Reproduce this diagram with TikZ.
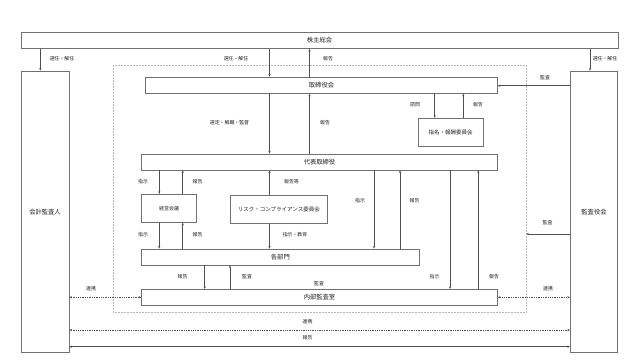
\documentclass[tikz,border=0pt]{standalone}
\usepackage{fontspec}
\setmainfont{Noto Sans CJK JP}
\usetikzlibrary{arrows.meta}
\definecolor{boxc}{HTML}{707070}
\definecolor{linec}{HTML}{505050}
\definecolor{txtc}{HTML}{222222}
\begin{document}
\begin{tikzpicture}[x=1pt,y=-1pt,
  bx/.style={draw=boxc,line width=0.8pt,inner sep=0pt,text=txtc,fill=white},
  bigt/.style={font=\fontsize{6.3}{7}\selectfont},
  smt/.style={font=\fontsize{5.5}{6.5}\selectfont},
  lab/.style={inner sep=0pt,text=txtc,font=\fontsize{4.9}{6}\selectfont},
  arr/.style={draw=linec,line width=0.6pt,-{Stealth[length=2.6pt,width=2.2pt]}},
  darr/.style={draw=linec,line width=0.55pt,dash pattern=on 1.3pt off 1pt,{Stealth[length=2.6pt,width=2.2pt]}-{Stealth[length=2.6pt,width=2.2pt]}},
  barr/.style={draw=linec,line width=0.6pt,{Stealth[length=2.6pt,width=2.2pt]}-{Stealth[length=2.6pt,width=2.2pt]}},
  grpst/.style={draw=black!28,line width=0.45pt,dash pattern=on 0.6pt off 0.9pt,inner sep=0pt}
]
\useasboundingbox[fill=white] (0,0) rectangle (640,360);

% group (dotted)
\node[grpst,minimum width=412.7pt,minimum height=247.4pt] (grp) at (319.65,189) {};

% boxes
\node[bx,bigt,minimum width=597pt,minimum height=15.8pt] (sh) at (319.5,40.4) {株主総会};
\node[bx,bigt,minimum width=48pt,minimum height=281.5pt] (ka) at (45,211.75) {会計監査人};
\node[bx,bigt,minimum width=47.4pt,minimum height=281.5pt] (ks) at (594,211.75) {監査役会};
\node[bx,bigt,minimum width=351.6pt,minimum height=16.3pt] (tr) at (321.5,85.15) {取締役会};
\node[bx,smt,minimum width=64.7pt,minimum height=27.7pt] (sm) at (450.65,132.15) {指名・報酬委員会};
\node[bx,bigt,minimum width=355.6pt,minimum height=16pt] (dr) at (319.5,162) {代表取締役};
\node[bx,font=\fontsize{5}{6}\selectfont,minimum width=55pt,minimum height=28pt] (kk) at (169.2,208.3) {経営会議};
\node[bx,smt,minimum width=96.3pt,minimum height=27.6pt] (rc) at (278.85,209.5) {リスク・コンプライアンス委員会};
\node[bx,bigt,minimum width=277.3pt,minimum height=16pt] (bm) at (280.35,257) {各部門};
\node[bx,bigt,minimum width=355.6pt,minimum height=16.4pt] (na) at (319.5,297.5) {内部監査室};

% guide coordinates
\coordinate (c40) at (40.3,0);
\coordinate (c590) at (590,0);
\coordinate (c269) at (269.5,0);
\coordinate (c310) at (309.5,0);
\coordinate (c435) at (434.7,0);
\coordinate (c463) at (463.3,0);
\coordinate (c159) at (159.3,0);
\coordinate (c183) at (182.7,0);
\coordinate (c374) at (374,0);
\coordinate (c400) at (400,0);
\coordinate (c450) at (450,0);
\coordinate (c478) at (478.3,0);
\coordinate (c205) at (204.7,0);
\coordinate (c230) at (230,0);
\coordinate (y85) at (0,85.7);
\coordinate (y234) at (0,234);
\coordinate (y297) at (0,297.3);
\coordinate (y330) at (0,330);
\coordinate (y347) at (0,346.7);

% connectors
\draw[arr] (sh.south -| c40) -- (ka.north -| c40);
\draw[arr] (sh.south -| c590) -- (ks.north -| c590);
\draw[arr] (sh.south -| c269) -- (tr.north -| c269);
\draw[arr] (tr.north -| c310) -- (sh.south -| c310);
\draw[arr] (ks.west |- y85) -- (tr.east |- y85);
\draw[arr] (tr.south -| c435) -- (sm.north -| c435);
\draw[arr] (sm.north -| c463) -- (tr.south -| c463);
\draw[arr] (tr.south -| c269) -- (dr.north -| c269);
\draw[arr] (dr.north -| c310) -- (tr.south -| c310);
\draw[arr] (dr.south -| c159) -- (kk.north -| c159);
\draw[arr] (kk.north -| c183) -- (dr.south -| c183);
\draw[arr] (kk.south -| c159) -- (bm.north -| c159);
\draw[arr] (bm.north -| c183) -- (kk.south -| c183);
\draw[arr] (rc.north -| c269) -- (dr.south -| c269);
\draw[arr] (rc.south -| c269) -- (bm.north -| c269);
\draw[arr] (dr.south -| c374) -- (bm.north -| c374);
\draw[arr] (bm.north -| c400) -- (dr.south -| c400);
\draw[arr] (dr.south -| c450) -- (na.north -| c450);
\draw[arr] (na.north -| c478) -- (dr.south -| c478);
\draw[arr] (bm.south -| c205) -- (na.north -| c205);
\draw[arr] (na.north -| c230) -- (bm.south -| c230);
\draw[arr] (ks.west |- y234) -- (grp.east |- y234);
\draw[darr] (ka.east |- y297) -- (na.west |- y297);
\draw[darr] (na.east |- y297) -- (ks.west |- y297);
\draw[darr] (ka.east |- y330) -- (ks.west |- y330);
\draw[barr] (ka.east |- y347) -- (ks.west |- y347);

% labels
\node[lab] (l1) at (62,59) {選任・解任};
\node[lab] (l2) at (605,59) {選任・解任};
\node[lab] (l3) at (236,59) {選任・解任};
\node[lab] (l4) at (328,59) {報告};
\node[lab] (l5) at (545,78) {監査};
\node[lab] (l6) at (415,105) {諮問};
\node[lab] (l7) at (478,105) {報告};
\node[lab] (l8) at (229.5,123) {選定・解職・監督};
\node[lab] (l9) at (325,123) {報告};
\node[lab] (l10) at (143,182) {指示};
\node[lab] (l11) at (197.5,182) {報告};
\node[lab] (l12) at (291.5,182) {報告等};
\node[lab] (l13) at (143,235) {指示};
\node[lab] (l14) at (197.5,235) {報告};
\node[lab] (l15) at (295,235) {指示・教育};
\node[lab] (l16) at (360,201) {指示};
\node[lab] (l17) at (414.5,201) {報告};
\node[lab] (l18) at (547.5,223) {監査};
\node[lab] (l19) at (182.5,277) {報告};
\node[lab] (l20) at (247,277) {監査};
\node[lab] (l21) at (319,284) {監査};
\node[lab] (l22) at (434.5,276.7) {指示};
\node[lab] (l23) at (494,277) {報告};
\node[lab] (l24) at (91,289) {連携};
\node[lab] (l25) at (548,289) {連携};
\node[lab] (l26) at (307.5,321.7) {連携};
\node[lab] (l27) at (307.5,338) {報告};
\end{tikzpicture}
\end{document}
